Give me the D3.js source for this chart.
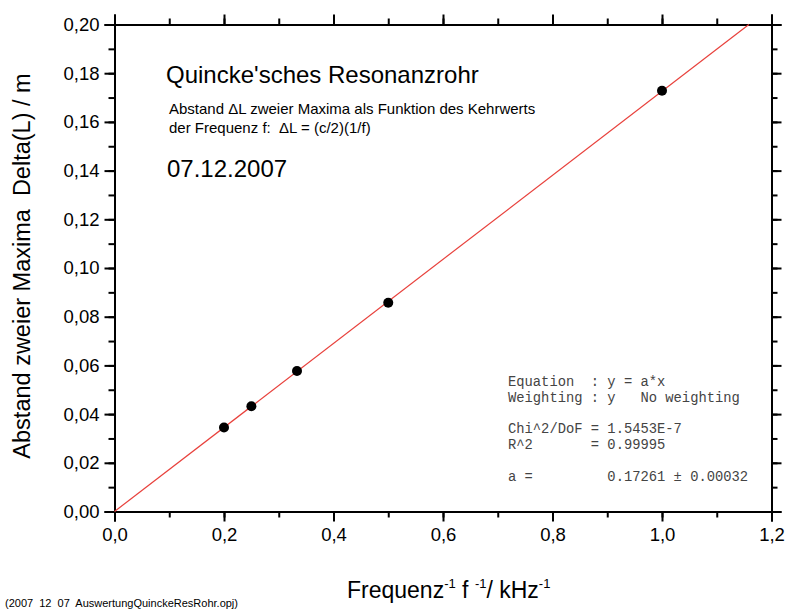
<!DOCTYPE html>
<html><head><meta charset="utf-8">
<script src="https://cdn.jsdelivr.net/npm/d3@7"></script>
<style>body{margin:0;background:#fff}svg{display:block;font-family:"Liberation Sans",Arial,sans-serif}</style>
</head><body><svg id="c" width="785" height="610"></svg>
<script>
const freqInv = [0.2, 0.25, 0.3333, 0.5, 1.0];
const deltaL = [0.0345, 0.0432, 0.0577, 0.0857, 0.1728];
const slopeA = 0.17261;
const xTicks = [0, 0.2, 0.4, 0.6, 0.8, 1.0, 1.2];
const yTicks = [0, 0.02, 0.04, 0.06, 0.08, 0.10, 0.12, 0.14, 0.16, 0.18, 0.20];
const fitLines = ["Equation  : y = a*x","Weighting : y   No weighting","","Chi^2/DoF = 1.5453E-7","R^2       = 0.99995","","a =         0.17261 \u00b1 0.00032"];

const svg = d3.select("#c");
const L=114.5, R=771.5, T=24.5, B=511.5;
const x = d3.scaleLinear().domain([0,1.2]).range([L,R]);
const y = d3.scaleLinear().domain([0,0.2]).range([B,T]);
const fmtX = d => d3.format(".1f")(d).replace(".", ",");
const fmtY = d => d3.format(".2f")(d).replace(".", ",");
const xMinor = d3.range(0,1.21,0.1);
const yMinor = d3.range(0,0.201,0.01);

function styleAxis(g){ g.selectAll("path,line").attr("stroke","#000").attr("stroke-width",2); g.selectAll("text").attr("font-family","Liberation Sans, Arial, sans-serif").attr("fill","#000"); }

// minor ticks
svg.append("g").attr("transform",`translate(0,${B})`).call(d3.axisBottom(x).tickValues(xMinor).tickSize(6).tickFormat("")).call(styleAxis);
svg.append("g").attr("transform",`translate(0,${T})`).call(d3.axisTop(x).tickValues(xMinor).tickSize(6).tickFormat("")).call(styleAxis);
svg.append("g").attr("transform",`translate(${L},0)`).call(d3.axisLeft(y).tickValues(yMinor).tickSize(6).tickFormat("")).call(styleAxis);
svg.append("g").attr("transform",`translate(${R},0)`).call(d3.axisRight(y).tickValues(yMinor).tickSize(6).tickFormat("")).call(styleAxis);
// major
svg.append("g").attr("transform",`translate(0,${B})`).call(d3.axisBottom(x).tickValues(xTicks).tickSize(10).tickPadding(6).tickFormat(fmtX)).call(styleAxis).selectAll("text").attr("font-size",18.5);
svg.append("g").attr("transform",`translate(0,${T})`).call(d3.axisTop(x).tickValues(xTicks).tickSize(10).tickFormat("")).call(styleAxis);
svg.append("g").attr("transform",`translate(${L},0)`).call(d3.axisLeft(y).tickValues(yTicks).tickSize(10).tickPadding(5).tickFormat(fmtY)).call(styleAxis).selectAll("text").attr("font-size",18.5);
svg.append("g").attr("transform",`translate(${R},0)`).call(d3.axisRight(y).tickValues(yTicks).tickSize(10).tickFormat("")).call(styleAxis);

// fit line
const xEnd = 0.2/slopeA;
svg.append("line").attr("x1",x(0)).attr("y1",y(0)).attr("x2",x(xEnd)).attr("y2",y(slopeA*xEnd))
  .attr("stroke","#e8413c").attr("stroke-width",1.2);

// points
svg.selectAll("circle.pt").data(freqInv.map((d,i)=>[d,deltaL[i]])).join("circle")
  .attr("class","pt").attr("cx",d=>x(d[0])).attr("cy",d=>y(d[1])).attr("r",5).attr("fill","#000");

// annotations
svg.append("text").attr("x",166).attr("y",83).attr("font-size",24).text("Quincke'sches Resonanzrohr");
svg.append("text").attr("x",169).attr("y",114).attr("font-size",15).attr("xml:space","preserve").text("Abstand \u0394L zweier Maxima als Funktion des Kehrwerts");
svg.append("text").attr("x",169).attr("y",133).attr("font-size",15).attr("xml:space","preserve").text("der Frequenz f:  \u0394L = (c/2)(1/f)");
svg.append("text").attr("x",167).attr("y",177).attr("font-size",24).text("07.12.2007");

const fb = svg.append("text").attr("font-family","Liberation Mono, Courier New, monospace").attr("font-size",13.8).attr("fill","#444").attr("xml:space","preserve");
fitLines.forEach((s,i)=>{ fb.append("tspan").attr("x",508).attr("y",386+i*15.8).text(s); });

// axis labels
const xl = svg.append("text").attr("x",347).attr("y",598).attr("font-size",23);
xl.append("tspan").text("Frequenz");
xl.append("tspan").attr("font-size",13).attr("dy",-10).text("-1");
xl.append("tspan").attr("dy",10).text(" f ");
xl.append("tspan").attr("font-size",13).attr("dy",-10).text("-1");
xl.append("tspan").attr("dy",10).text("/ kHz");
xl.append("tspan").attr("font-size",13).attr("dy",-10).text("-1");

svg.append("text").attr("transform","translate(30,266) rotate(-90)").attr("text-anchor","middle").attr("font-size",23.5)
  .attr("xml:space","preserve").text("Abstand zweier Maxima  Delta(L) / m");

svg.append("text").attr("x",5).attr("y",607).attr("font-size",11).attr("xml:space","preserve").text("(2007  12  07  AuswertungQuinckeResRohr.opj)");
</script></body></html>
